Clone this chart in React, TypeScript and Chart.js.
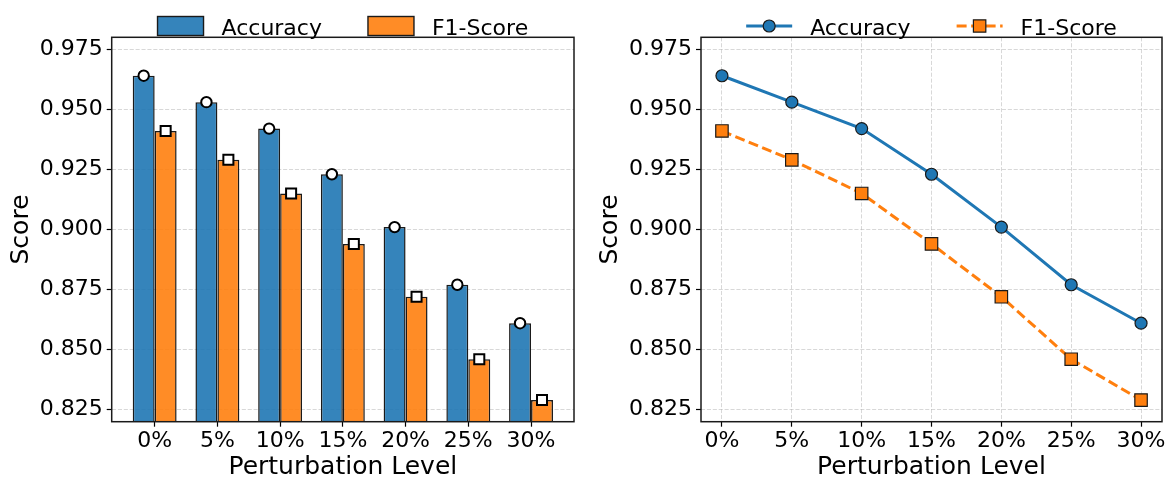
import React, { useEffect, useRef } from "react";
import { Chart, registerables } from "chart.js";

Chart.register(...registerables);

// ---------------- data ----------------
const categories = ["0%", "5%", "10%", "15%", "20%", "25%", "30%"];
const accuracy = [0.964, 0.953, 0.942, 0.923, 0.901, 0.877, 0.861];
const f1Score = [0.941, 0.929, 0.915, 0.894, 0.872, 0.846, 0.829];
const yTicks = [0.825, 0.85, 0.875, 0.9, 0.925, 0.95, 0.975];
const seriesNames = ["Accuracy", "F1-Score"];
const xTitle = "Perturbation Level";
const yTitle = "Score";

// ---------------- style ----------------
const FONT = "'DejaVu Sans', Verdana, sans-serif";
const BLUE = "#1f77b4";
const ORANGE = "#ff7f0e";
const BLUE_BAR = "rgba(31,119,180,0.9)";
const ORANGE_BAR = "rgba(255,127,14,0.9)";
const EDGE = "#1a1a1a";
const GRID = "rgba(176,176,176,0.55)";
const BAR_OFFSET = 0.175;

Chart.defaults.color = "#000";
Chart.defaults.font.family = FONT;

const framePlugin = {
  id: "frame",
  afterDraw(chart: any) {
    const { ctx, chartArea: a } = chart;
    ctx.save();
    ctx.strokeStyle = EDGE;
    ctx.lineWidth = 1.5;
    ctx.setLineDash([]);
    ctx.strokeRect(a.left, a.top, a.right - a.left, a.bottom - a.top);
    ctx.restore();
  },
};

function makeLegend(kind: "bar" | "line") {
  return {
    id: "customLegend",
    afterDraw(chart: any) {
      const { ctx, chartArea: a } = chart;
      ctx.save();
      ctx.font = `22px ${FONT}`;
      const handle = 46;
      const pad = 18;
      const colSp = 46;
      const widths = seriesNames.map((n) => ctx.measureText(n).width);
      const total =
        widths.reduce((s, w) => s + handle + pad + w, 0) + colSp * (seriesNames.length - 1);
      let x = (a.left + a.right) / 2 - total / 2;
      const cy = 26;
      seriesNames.forEach((name, i) => {
        if (kind === "bar") {
          ctx.fillStyle = i === 0 ? BLUE_BAR : ORANGE_BAR;
          ctx.fillRect(x, cy - 9.5, handle, 19);
          ctx.strokeStyle = EDGE;
          ctx.lineWidth = 1.4;
          ctx.strokeRect(x, cy - 9.5, handle, 19);
        } else {
          const col = i === 0 ? BLUE : ORANGE;
          ctx.strokeStyle = col;
          ctx.lineWidth = 3;
          ctx.setLineDash(i === 0 ? [] : [10, 4.5]);
          ctx.beginPath();
          ctx.moveTo(x, cy);
          ctx.lineTo(x + handle, cy);
          ctx.stroke();
          ctx.setLineDash([]);
          ctx.fillStyle = col;
          ctx.strokeStyle = EDGE;
          ctx.lineWidth = 1.2;
          ctx.beginPath();
          if (i === 0) {
            ctx.arc(x + handle / 2, cy, 6, 0, Math.PI * 2);
          } else {
            ctx.rect(x + handle / 2 - 6.2, cy - 6.2, 12.4, 12.4);
          }
          ctx.fill();
          ctx.stroke();
        }
        ctx.fillStyle = "#000";
        ctx.textAlign = "left";
        ctx.textBaseline = "alphabetic";
        ctx.fillText(name, x + handle + pad, cy + 8.5);
        x += handle + pad + widths[i] + colSp;
      });
      ctx.restore();
    },
  };
}

function xScale(min: number, max: number, showGrid: boolean) {
  return {
    type: "linear",
    min,
    max,
    offset: false,
    afterBuildTicks(scale: any) {
      scale.ticks = categories.map((_, i) => ({ value: i }));
    },
    afterFit(scale: any) {
      scale.height = 57.3;
      scale.paddingLeft = 0;
      scale.paddingRight = 0;
    },
    ticks: {
      autoSkip: false,
      maxRotation: 0,
      minRotation: 0,
      padding: 1,
      font: { size: 22, family: FONT },
      color: "#000",
      callback: (v: number) => categories[Math.round(v)] ?? "",
    },
    grid: {
      offset: false,
      display: true,
      drawOnChartArea: showGrid,
      drawTicks: true,
      color: GRID,
      lineWidth: 0.9,
      tickColor: "#000",
      tickWidth: 1.2,
      tickLength: 5,
      tickBorderDash: [],
    },
    border: { display: false, dash: [4.1, 1.8] },
    title: {
      display: true,
      text: xTitle,
      color: "#000",
      font: { size: 25, family: FONT, lineHeight: 1 },
      padding: { top: 0, bottom: -1 },
    },
  };
}

function yScale(width: number, titlePad: number) {
  return {
    type: "linear",
    min: 0.82,
    max: 0.98,
    beginAtZero: false,
    afterBuildTicks(scale: any) {
      scale.ticks = yTicks.map((v) => ({ value: v }));
    },
    afterFit(scale: any) {
      scale.width = width;
      scale.paddingTop = 0;
      scale.paddingBottom = 0;
    },
    ticks: {
      padding: 4,
      font: { size: 22, family: FONT },
      color: "#000",
      callback: (v: number) => v.toFixed(3),
    },
    grid: {
      display: true,
      drawOnChartArea: true,
      drawTicks: true,
      color: GRID,
      lineWidth: 0.9,
      tickColor: "#000",
      tickWidth: 1.2,
      tickLength: 5,
      tickBorderDash: [],
    },
    border: { display: false, dash: [4.1, 1.8] },
    title: {
      display: true,
      text: yTitle,
      color: "#000",
      font: { size: 25, family: FONT, lineHeight: 1.2 },
      padding: { top: titlePad, bottom: 0 },
    },
  };
}

function BarPanel() {
  const ref = useRef<HTMLCanvasElement>(null);
  useEffect(() => {
    if (!ref.current) return;
    const chart = new Chart(ref.current, {
      type: "bar",
      data: {
        datasets: [
          {
            type: "line",
            label: seriesNames[0] + " markers",
            data: accuracy.map((v, i) => ({ x: i - BAR_OFFSET, y: v })),
            showLine: false,
            pointStyle: "circle",
            pointRadius: 5.2,
            pointBackgroundColor: "#fff",
            pointBorderColor: "#000",
            pointBorderWidth: 2,
            order: 0,
          } as any,
          {
            type: "line",
            label: seriesNames[1] + " markers",
            data: f1Score.map((v, i) => ({ x: i + BAR_OFFSET, y: v })),
            showLine: false,
            pointStyle: "rect",
            pointRadius: 7.1,
            pointBackgroundColor: "#fff",
            pointBorderColor: "#000",
            pointBorderWidth: 2,
            order: 0,
          } as any,
          {
            label: seriesNames[0],
            data: accuracy.map((v, i) => ({ x: i, y: v })),
            backgroundColor: BLUE_BAR,
            borderColor: EDGE,
            borderWidth: 1.5,
            categoryPercentage: 0.7,
            barPercentage: 1.0,
            order: 1,
          } as any,
          {
            label: seriesNames[1],
            data: f1Score.map((v, i) => ({ x: i, y: v })),
            backgroundColor: ORANGE_BAR,
            borderColor: EDGE,
            borderWidth: 1.5,
            categoryPercentage: 0.7,
            barPercentage: 1.0,
            order: 1,
          } as any,
        ],
      },
      options: {
        responsive: false,
        animation: false,
        devicePixelRatio: 1,
        layout: { padding: { top: 37.3, right: 12, left: 0, bottom: 0 } },
        plugins: { legend: { display: false }, tooltip: { enabled: false } },
        scales: {
          x: xScale(-0.685, 6.685, false),
          y: yScale(111.7, 6),
        } as any,
      },
      plugins: [framePlugin, makeLegend("bar")],
    } as any);
    return () => chart.destroy();
  }, []);
  return <canvas ref={ref} width={586} height={479} style={{ position: "absolute", left: 0, top: 0 }} />;
}

function LinePanel() {
  const ref = useRef<HTMLCanvasElement>(null);
  useEffect(() => {
    if (!ref.current) return;
    const chart = new Chart(ref.current, {
      type: "line",
      data: {
        datasets: [
          {
            label: seriesNames[0],
            data: accuracy.map((v, i) => ({ x: i, y: v })),
            borderColor: BLUE,
            borderWidth: 3,
            tension: 0,
            pointStyle: "circle",
            pointRadius: 6,
            pointBackgroundColor: BLUE,
            pointBorderColor: EDGE,
            pointBorderWidth: 1.2,
          },
          {
            label: seriesNames[1],
            data: f1Score.map((v, i) => ({ x: i, y: v })),
            borderColor: ORANGE,
            borderWidth: 3,
            borderDash: [10, 4.5],
            tension: 0,
            pointStyle: "rect",
            pointRadius: 8.8,
            pointBackgroundColor: ORANGE,
            pointBorderColor: EDGE,
            pointBorderWidth: 1.2,
          },
        ],
      },
      options: {
        responsive: false,
        animation: false,
        devicePixelRatio: 1,
        layout: { padding: { top: 37.3, right: 9, left: 0, bottom: 0 } },
        plugins: { legend: { display: false }, tooltip: { enabled: false } },
        scales: {
          x: xScale(-0.3, 6.3, true),
          y: yScale(115, 9.2),
        } as any,
      },
      plugins: [framePlugin, makeLegend("line")],
    } as any);
    return () => chart.destroy();
  }, []);
  return <canvas ref={ref} width={586} height={479} style={{ position: "absolute", left: 586, top: 0 }} />;
}

export default function App() {
  return (
    <div
      style={{
        position: "absolute",
        left: 0,
        top: 0,
        width: 1172,
        height: 479,
        background: "#fff",
        overflow: "hidden",
      }}
    >
      <BarPanel />
      <LinePanel />
    </div>
  );
}
